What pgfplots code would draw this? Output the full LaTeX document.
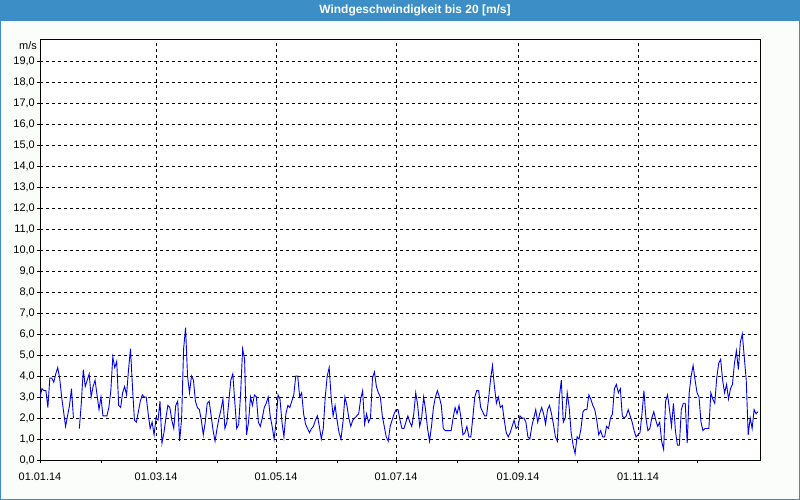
\documentclass[border=0pt]{standalone}
\usepackage{pgfplots}
\pgfplotsset{compat=1.18}
\usepackage{fontspec}
\setmainfont{Liberation Sans}
\definecolor{titleblue}{RGB}{60,143,198}
\definecolor{bgc}{RGB}{250,253,250}
\definecolor{lineblue}{RGB}{0,0,240}
\begin{document}
\begin{tikzpicture}
\fill[bgc] (0bp,0bp) rectangle (800bp,500bp);
\fill[titleblue] (0bp,479bp) rectangle (800bp,500bp);
\draw[titleblue, line width=1bp] (0.5bp,0.5bp) rectangle (799.5bp,499.5bp);
\node[white, font=\bfseries\fontsize{12}{14}\selectfont] at (415bp,489.5bp) {Windgeschwindigkeit bis 20 [m/s]};
\node[anchor=east, inner sep=0pt, font=\fontsize{11}{13}\selectfont] at (37bp,454bp) {m/s};
\begin{axis}[
  at={(40bp,40bp)}, anchor=south west,
  width=720bp, height=420bp, scale only axis,
  xmin=0, xmax=366, ymin=0, ymax=20,
  axis background/.style={fill=white},
  xtick={0,59,120,181,243,304},
  xticklabels={01.01.14,01.03.14,01.05.14,01.07.14,01.09.14,01.11.14},
  minor xtick={31,90,151,212,273,334},
  ytick={0,...,19},
  tick align=outside,
  major tick length=3bp, minor tick length=3bp,
  tick style={black, line width=0.8bp},
  xtick pos=bottom, ytick pos=left,
  grid=major,
  major grid style={black, dash pattern=on 3bp off 3bp, line width=0.8bp},
  axis line style={black, line width=1bp},
  ticklabel style={font=\fontsize{11}{13}\selectfont, text=black},
  yticklabel style={inner sep=2bp},
  xticklabel style={inner sep=2bp, yshift=-8bp},
  /pgf/number format/.cd, fixed, fixed zerofill, precision=1, use comma, assume math mode=true,
  /pgfplots/.cd,
  unbounded coords=jump,
  clip=true,
]
\addplot[lineblue, line width=0.9bp, mark=none] coordinates {
(0,3.0)(1,3.4)(2,3.3)(3,3.3)(4,2.5)(5,3.9)(6,3.9)(7,3.7)(8,4.1)(9,4.4)
(10,3.9)(11,3.0)(12,2.3)(13,1.6)(14,2.1)(15,2.6)(16,3.4)(17,2.0)(18,nan)(19,nan)
(20,1.5)(21,2.7)(22,4.3)(23,3.5)(24,3.8)(25,4.1)(26,3.0)(27,3.5)(28,3.8)(29,3.1)
(30,2.4)(31,3.0)(32,2.1)(33,2.1)(34,2.1)(35,2.5)(36,3.3)(37,4.9)(38,4.4)(39,4.7)
(40,2.6)(41,2.5)(42,3.2)(43,3.5)(44,3.1)(45,4.3)(46,5.3)(47,3.5)(48,1.9)(49,1.8)
(50,2.3)(51,2.8)(52,3.1)(53,3.0)(54,3.0)(55,2.2)(56,1.5)(57,1.8)(58,1.2)(59,2.0)
(60,1.9)(61,2.8)(62,0.8)(63,1.3)(64,2.0)(65,2.6)(66,2.5)(67,1.9)(68,1.5)(69,2.6)
(70,2.8)(71,0.9)(72,2.0)(73,5.3)(74,6.3)(75,4.0)(76,3.2)(77,4.0)(78,3.8)(79,2.8)
(80,2.5)(81,2.4)(82,1.9)(83,1.2)(84,1.8)(85,2.7)(86,2.8)(87,2.1)(88,1.4)(89,0.9)
(90,1.5)(91,2.0)(92,2.4)(93,2.9)(94,1.5)(95,1.8)(96,2.8)(97,3.8)(98,4.1)(99,2.8)
(100,1.5)(101,1.7)(102,3.2)(103,5.3)(104,4.8)(105,1.2)(106,1.8)(107,3.0)(108,2.6)(109,3.1)
(110,3.0)(111,1.8)(112,1.6)(113,2.0)(114,2.5)(115,2.7)(116,3.0)(117,2.1)(118,1.6)(119,1.0)
(120,1.8)(121,3.1)(122,2.9)(123,1.8)(124,1.1)(125,2.2)(126,2.6)(127,2.5)(128,2.8)(129,3.1)
(130,4.0)(131,4.0)(132,3.0)(133,3.2)(134,2.2)(135,1.7)(136,1.5)(137,1.3)(138,1.5)(139,1.6)
(140,1.9)(141,2.1)(142,1.6)(143,1.0)(144,1.5)(145,3.0)(146,4.0)(147,4.4)(148,3.0)(149,2.1)
(150,2.6)(151,1.9)(152,1.3)(153,1.0)(154,1.8)(155,3.0)(156,2.6)(157,2.0)(158,1.6)(159,1.9)
(160,2.0)(161,2.1)(162,2.2)(163,2.9)(164,3.3)(165,1.7)(166,2.2)(167,1.8)(168,2.0)(169,3.9)
(170,4.2)(171,3.5)(172,3.2)(173,3.0)(174,2.1)(175,1.6)(176,1.1)(177,0.9)(178,1.6)(179,1.9)
(180,2.2)(181,2.4)(182,2.4)(183,1.9)(184,1.5)(185,1.5)(186,1.8)(187,2.1)(188,1.8)(189,1.6)
(190,2.2)(191,3.2)(192,2.6)(193,1.6)(194,2.0)(195,3.0)(196,2.4)(197,1.5)(198,0.9)(199,1.6)
(200,2.5)(201,3.0)(202,3.3)(203,3.0)(204,2.6)(205,1.5)(206,1.4)(207,1.4)(208,1.4)(209,1.4)
(210,2.0)(211,2.5)(212,2.2)(213,2.6)(214,2.0)(215,1.2)(216,1.3)(217,1.6)(218,1.1)(219,1.1)
(220,2.0)(221,3.0)(222,3.3)(223,3.3)(224,2.5)(225,2.3)(226,2.1)(227,2.1)(228,2.9)(229,3.8)
(230,4.5)(231,3.5)(232,2.7)(233,3.0)(234,2.5)(235,2.6)(236,1.9)(237,1.3)(238,1.1)(239,1.3)
(240,1.6)(241,1.9)(242,1.5)(243,1.6)(244,2.1)(245,2.0)(246,2.0)(247,1.8)(248,1.1)(249,1.0)
(250,1.6)(251,2.0)(252,2.4)(253,1.8)(254,2.2)(255,2.5)(256,2.2)(257,1.7)(258,2.4)(259,2.6)
(260,2.2)(261,1.7)(262,1.1)(263,0.9)(264,3.0)(265,3.8)(266,1.8)(267,2.0)(268,3.2)(269,2.5)
(270,1.3)(271,0.7)(272,0.3)(273,1.1)(274,1.0)(275,1.5)(276,2.3)(277,2.4)(278,2.4)(279,3.1)
(280,2.9)(281,2.6)(282,2.4)(283,1.9)(284,1.2)(285,1.4)(286,1.1)(287,1.1)(288,1.6)(289,1.5)
(290,2.0)(291,2.2)(292,3.4)(293,3.6)(294,3.2)(295,3.4)(296,2.1)(297,2.0)(298,2.1)(299,2.4)
(300,2.1)(301,1.8)(302,1.4)(303,1.1)(304,1.2)(305,1.3)(306,2.2)(307,3.3)(308,2.0)(309,1.4)
(310,1.5)(311,2.0)(312,2.3)(313,1.9)(314,1.6)(315,1.8)(316,0.9)(317,0.5)(318,2.8)(319,3.1)
(320,2.4)(321,1.6)(322,2.7)(323,1.4)(324,0.7)(325,0.7)(326,2.4)(327,2.7)(328,2.7)(329,0.8)
(330,3.2)(331,4.0)(332,4.5)(333,3.8)(334,3.2)(335,3.0)(336,1.8)(337,1.4)(338,1.5)(339,1.5)
(340,1.5)(341,3.2)(342,2.9)(343,2.7)(344,3.9)(345,4.6)(346,4.8)(347,3.8)(348,3.2)(349,3.6)
(350,2.9)(351,3.4)(352,3.6)(353,4.6)(354,5.2)(355,4.3)(356,5.6)(357,6.0)(358,4.9)(359,3.8)
(360,1.2)(361,2.0)(362,1.5)(363,2.4)(364,2.2)(365,2.3)
};
\end{axis}
\end{tikzpicture}
\end{document}
